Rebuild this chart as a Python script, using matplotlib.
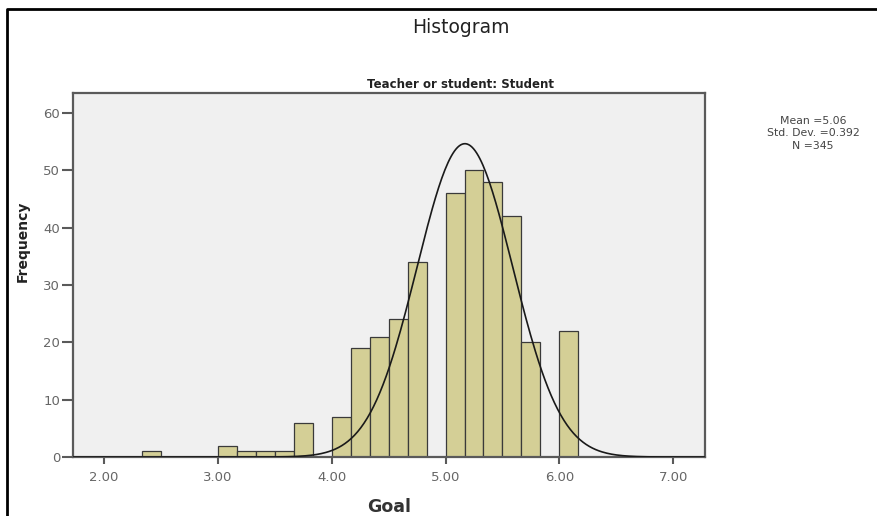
import numpy as np
import matplotlib
matplotlib.use("Agg")
import matplotlib.pyplot as plt
from matplotlib.lines import Line2D


# ------------------------------------------------------------
# data
# ------------------------------------------------------------
BIN_WIDTH = 1 / 6

bin_starts = [2.3333, 3.0, 3.1667, 3.3333, 3.5, 3.6667,
              4.0, 4.1667, 4.3333, 4.5, 4.6667,
              5.0, 5.1667, 5.3333, 5.5, 5.6667,
              6.0]
frequency = [1, 2, 1, 1, 1, 6,
             7, 19, 21, 24, 34,
             46, 50, 48, 42, 20,
             22]

# normal curve as drawn in the picture
curve_mean = 5.17
curve_sd = 0.42
n_total = 345

x_ticks = [2.0, 3.0, 4.0, 5.0, 6.0, 7.0]
y_ticks = [0, 10, 20, 30, 40, 50, 60]

stats_lines = ["Mean =5.06", "Std. Dev. =0.392", "N =345"]

BAR_COLOR = "#d4cf96"
AXES_BG = "#f0f0f0"
SPINE_COLOR = "#5a5a5a"
TICK_TEXT = "#666666"


# ------------------------------------------------------------
# figure
# ------------------------------------------------------------
fig = plt.figure(figsize=(8.77, 5.16), dpi=100)
fig.patch.set_facecolor("white")

ax = fig.add_axes([0.0829, 0.1143, 0.7211, 0.706])
ax.set_facecolor(AXES_BG)

ax.bar(bin_starts, frequency, width=BIN_WIDTH, align="edge",
       color=BAR_COLOR, edgecolor="#3a3a3a", linewidth=0.9, zorder=2)

xs = np.linspace(1.72, 7.28, 400)
ys = n_total * BIN_WIDTH / (curve_sd * np.sqrt(2 * np.pi)) * \
    np.exp(-0.5 * ((xs - curve_mean) / curve_sd) ** 2)
ax.plot(xs, ys, color="#1a1a1a", linewidth=1.2, zorder=3)

ax.set_xlim(1.725, 7.28)
ax.set_ylim(0, 63.5)

ax.set_xticks(x_ticks)
ax.set_xticklabels([f"{t:.2f}" for t in x_ticks])
ax.set_yticks(y_ticks)
ax.set_yticklabels([str(t) for t in y_ticks])

ax.tick_params(axis="x", length=5, width=1.5, color=SPINE_COLOR,
               labelsize=9.5, labelcolor=TICK_TEXT, pad=5)
ax.tick_params(axis="y", length=8, width=1.5, color=SPINE_COLOR,
               labelsize=9.5, labelcolor=TICK_TEXT, pad=1)

for sp in ax.spines.values():
    sp.set_color(SPINE_COLOR)
    sp.set_linewidth(1.6)

ax.set_xlabel("Goal", fontsize=12.5, fontweight="bold", color="#333333",
              labelpad=10)
fig.text(0.026, 0.533, "Frequency", rotation=90, fontsize=10,
         fontweight="bold", color="#222222", ha="center", va="center")

# titles
fig.text(0.526, 0.946, "Histogram", fontsize=13.5, color="#222222",
         ha="center", va="center")
fig.text(0.525, 0.837, "Teacher or student: Student", fontsize=8.5,
         fontweight="bold", color="#222222", ha="center", va="center")

# stats box text
for i, line in enumerate(stats_lines):
    fig.text(0.927, 0.765 - i * 0.0235, line, fontsize=7.8,
             color="#444444", ha="center", va="center")

# outer frame (left + top edge of the SPSS output panel)
fig.add_artist(Line2D([7 / 877, 7 / 877, 1.0], [0.0, 1 - 9 / 516, 1 - 9 / 516],
                      transform=fig.transFigure, color="black", linewidth=2))

plt.savefig("out.png", dpi=100)
plt.close()
